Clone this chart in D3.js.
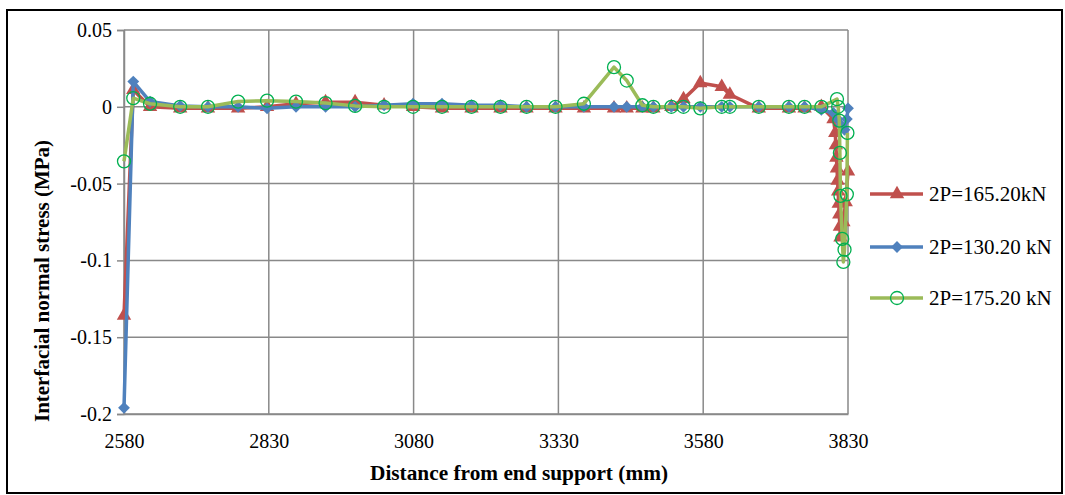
<!DOCTYPE html>
<html>
<head>
<meta charset="utf-8">
<script src="https://cdn.jsdelivr.net/npm/d3@7"></script>
<style>
  body { margin: 0; background: #fff; }
  svg { display: block; }
  text { font-family: "Liberation Serif", "Times New Roman", serif; fill: #000; }
</style>
</head>
<body>
<svg id="chart" width="1065" height="495"></svg>
<script>
// Distance from end support (mm) for the sampled gauge positions
const distCommon = [2580, 2596, 2625, 2677, 2725, 2777, 2827, 2877, 2928, 2979, 3029, 3079,
  3129, 3180, 3230, 3275, 3325, 3374, 3426, 3448, 3475, 3494, 3525, 3546, 3575, 3612, 3626,
  3676, 3728, 3755, 3784];

// Interfacial normal stress (MPa) along the common positions
const stress165 = [-0.136, 0.011, 0.000, -0.001, -0.001, -0.001, 0.000, 0.002, 0.003, 0.003, 0.001, 0.000,
  -0.001, -0.001, -0.001, -0.001, -0.001, -0.001, -0.001, -0.001, -0.001, -0.001, 0.000, 0.005, 0.0155, 0.013, 0.008,
  -0.001, -0.001, -0.001, 0.000];
const stress130 = [-0.196, 0.0164, 0.0034, 0.0006, 0.000, 0.000, -0.001, 0.000, 0.000, 0.000, 0.001, 0.002,
  0.002, 0.001, 0.001, 0.000, 0.000, 0.000, 0.000, 0.000, 0.000, 0.000, 0.000, 0.000, 0.000, 0.000, 0.000,
  0.000, 0.000, 0.000, -0.002];
const stress175 = [-0.0355, 0.0056, 0.002, 0.000, 0.000, 0.0034, 0.004, 0.0034, 0.0024, 0.0006, 0.000, 0.000,
  0.000, 0.000, 0.000, 0.000, 0.000, 0.002, 0.0258, 0.0171, 0.001, 0.000, 0.000, 0.000, -0.001, 0.000, 0.000,
  0.000, 0.000, 0.000, 0.000];

// Dense readings close to the plate end
const tailDist165 = [3805, 3808, 3809, 3810, 3811, 3812, 3813, 3814, 3815, 3816, 3817, 3822, 3826, 3830];
const tailStress165 = [-0.008, -0.017, -0.025, -0.033, -0.040, -0.048, -0.055, -0.063, -0.070, -0.078, -0.085, -0.075, -0.062, -0.042];
const tailDist130 = [3805, 3812, 3818, 3824, 3828, 3830];
const tailStress130 = [-0.004, -0.008, -0.012, -0.015, -0.008, -0.001];
const tailDist175 = [3811, 3813, 3815, 3816, 3817, 3820, 3822, 3824, 3828, 3829];
const tailStress175 = [0.005, 0.000, -0.009, -0.030, -0.058, -0.086, -0.101, -0.093, -0.057, -0.017];

const xTicks = [2580, 2830, 3080, 3330, 3580, 3830];
const yTicks = [0.05, 0, -0.05, -0.1, -0.15, -0.2];
const seriesNames = ["2P=165.20kN", "2P=130.20 kN", "2P=175.20 kN"];

const build = (xs, ys, txs, tys) =>
  xs.map((d, i) => ({ x: d, y: ys[i] })).concat(txs.map((d, i) => ({ x: d, y: tys[i] })));

const series = [
  { name: seriesNames[0], color: "#C0504D", marker: "triangle", data: build(distCommon, stress165, tailDist165, tailStress165) },
  { name: seriesNames[1], color: "#4F81BD", marker: "diamond", data: build(distCommon, stress130, tailDist130, tailStress130) },
  { name: seriesNames[2], color: "#9BBB59", marker: "circle", data: build(distCommon, stress175, tailDist175, tailStress175) }
];

const svg = d3.select("#chart");

// outer frame
svg.append("rect").attr("x", 7).attr("y", 10).attr("width", 1055).attr("height", 483)
  .attr("fill", "none").attr("stroke", "#000").attr("stroke-width", 2);

const x = d3.scaleLinear().domain([2580, 3830]).range([124, 848]);
const y = d3.scaleLinear().domain([-0.2, 0.05]).range([414, 30]);

const gridColor = "#898989";

// gridlines
svg.append("g").selectAll("line").data(xTicks).join("line")
  .attr("x1", d => x(d)).attr("x2", d => x(d)).attr("y1", y(0.05)).attr("y2", y(-0.2))
  .attr("stroke", gridColor).attr("stroke-width", 1.5);
svg.append("g").selectAll("line").data(yTicks).join("line")
  .attr("x1", x(2580)).attr("x2", x(3830)).attr("y1", d => y(d)).attr("y2", d => y(d))
  .attr("stroke", gridColor).attr("stroke-width", 1.5);

// y axis (plain hyphen for negatives)
const yAxis = d3.axisLeft(y).tickValues(yTicks).tickSize(7).tickPadding(5)
  .tickFormat(d => String(+d.toFixed(2)));
const gy = svg.append("g").attr("transform", `translate(${x(2580)},0)`).call(yAxis);
gy.select(".domain").attr("stroke", gridColor).attr("stroke-width", 1.5);
gy.selectAll(".tick line").attr("stroke", gridColor).attr("stroke-width", 1.5);
gy.selectAll(".tick text").attr("font-size", 20).attr("font-family", "Liberation Serif").attr("fill", "#000");

// x axis
const xAxis = d3.axisBottom(x).tickValues(xTicks).tickSize(0).tickPadding(20).tickFormat(d3.format("d"));
const gx = svg.append("g").attr("transform", `translate(0,${y(-0.2)})`).call(xAxis);
gx.select(".domain").attr("stroke", gridColor).attr("stroke-width", 1.5);
gx.selectAll(".tick text").attr("font-size", 20).attr("font-family", "Liberation Serif").attr("fill", "#000");

// axis titles
svg.append("text").attr("x", 519).attr("y", 480).attr("text-anchor", "middle")
  .attr("font-size", 20).attr("font-weight", "bold")
  .attr("textLength", 298).attr("lengthAdjust", "spacingAndGlyphs")
  .text("Distance from end support (mm)");
svg.append("text").attr("transform", "translate(49,281) rotate(-90)").attr("text-anchor", "middle")
  .attr("font-size", 20).attr("font-weight", "bold")
  .attr("textLength", 282).attr("lengthAdjust", "spacingAndGlyphs")
  .text("Interfacial normal stress (MPa)");

// marker drawing
const symTriangle = d3.symbol().type(d3.symbolTriangle).size(90);
const symDiamond = d3.symbol().type(d3.symbolSquare).size(70);
function drawMarker(g, s, cx, cy) {
  if (s.marker === "triangle") {
    g.append("path").attr("d", symTriangle()).attr("transform", `translate(${cx},${cy})`)
      .attr("fill", s.color);
  } else if (s.marker === "diamond") {
    g.append("path").attr("d", symDiamond()).attr("transform", `translate(${cx},${cy}) rotate(45)`)
      .attr("fill", s.color);
  } else {
    g.append("circle").attr("cx", cx).attr("cy", cy).attr("r", 6.5)
      .attr("fill", "none").attr("stroke", "#00B050").attr("stroke-width", 1.3);
  }
}

const line = d3.line().x(d => x(d.x)).y(d => y(d.y));
series.forEach(s => {
  const g = svg.append("g");
  g.append("path").datum(s.data).attr("d", line)
    .attr("fill", "none").attr("stroke", s.color).attr("stroke-width", 3.5)
    .attr("stroke-linejoin", "round");
  s.data.forEach(d => drawMarker(g, s, x(d.x), y(d.y)));
});

// legend
const legendY = [194, 247, 298];
series.forEach((s, i) => {
  const g = svg.append("g");
  g.append("line").attr("x1", 870).attr("x2", 923).attr("y1", legendY[i]).attr("y2", legendY[i])
    .attr("stroke", s.color).attr("stroke-width", 3.5);
  drawMarker(g, s, 897, legendY[i]);
  g.append("text").attr("x", 929).attr("y", legendY[i] + 7).attr("font-size", 21).text(s.name);
});
</script>
</body>
</html>
